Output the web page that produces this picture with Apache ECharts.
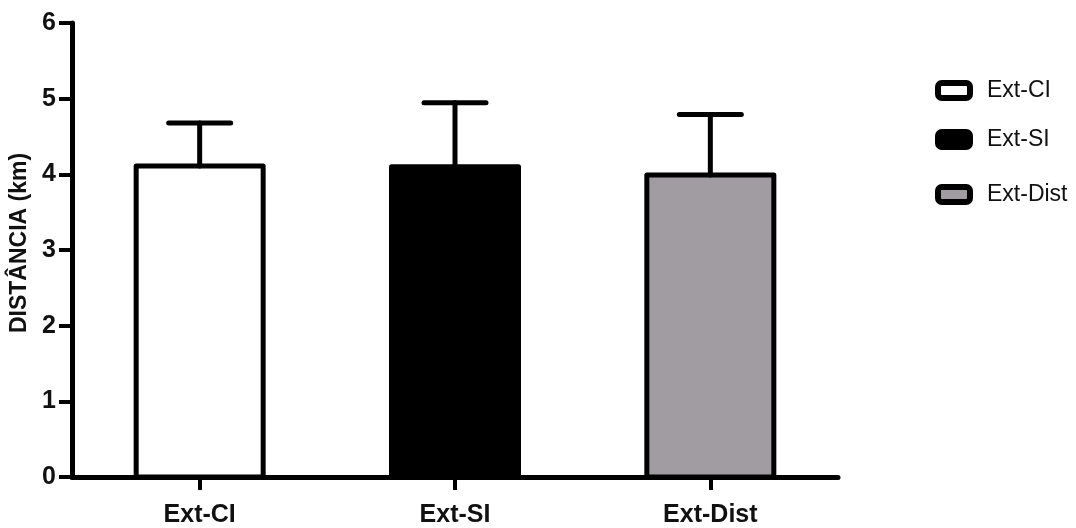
<!DOCTYPE html>
<html>
<head>
<meta charset="utf-8">
<script src="https://cdn.jsdelivr.net/npm/echarts@6/dist/echarts.min.js"></script>
<style>html,body{margin:0;padding:0;background:#fff}#c{width:1076px;height:528px}</style>
</head>
<body>
<div id="c"></div>
<script>
var categories = ['Ext-CI', 'Ext-SI', 'Ext-Dist'];
var seriesNames = ['Ext-CI', 'Ext-SI', 'Ext-Dist'];
var means = [4.11, 4.10, 3.99];
var upperErr = [4.68, 4.945, 4.79];
var fills = ['#ffffff', '#000000', '#a19ca2'];
var yTicks = [0, 1, 2, 3, 4, 5, 6];

var chart = echarts.init(document.getElementById('c'));
var font = '"Liberation Sans", Arial, sans-serif';
var BAR_W = 127;

var series = seriesNames.map(function (name, i) {
  var data = categories.map(function (c, j) { return j === i ? means[i] : '-'; });
  return {
    name: name, type: 'bar', data: data, barWidth: BAR_W, barGap: '-100%',
    itemStyle: { color: fills[i], borderWidth: 0 },
    z: 2
  };
});
// bar outlines (stroke centred on the bar edge)
series.push({
  type: 'custom', name: 'outline', z: 3, silent: true,
  data: categories.map(function (c, j) { return [j, means[j]]; }),
  renderItem: function (params, api) {
    var p0 = api.coord([api.value(0), 0]);
    var p1 = api.coord([api.value(0), api.value(1)]);
    return {
      type: 'rect',
      shape: { x: p0[0] - BAR_W / 2, y: p1[1], width: BAR_W, height: p0[1] - p1[1] },
      style: { fill: 'none', stroke: '#000', lineWidth: 5, lineJoin: 'round' }
    };
  }
});
series.push({
  type: 'custom', name: 'err', z: 4, silent: true,
  data: categories.map(function (c, j) { return [j, means[j], upperErr[j]]; }),
  renderItem: function (params, api) {
    var base = api.coord([api.value(0), api.value(1)]);
    var top = api.coord([api.value(0), api.value(2)]);
    var hw = 31;
    var st = { stroke: '#000', lineWidth: 5, lineCap: 'round' };
    return { type: 'group', children: [
      { type: 'line', shape: { x1: base[0], y1: base[1], x2: top[0], y2: top[1] }, style: st },
      { type: 'line', shape: { x1: top[0] - hw, y1: top[1], x2: top[0] + hw, y2: top[1] }, style: st }
    ]};
  }
});

function legendAt(i, topPx) {
  return {
    data: [seriesNames[i]], orient: 'vertical', left: 935, top: topPx, padding: 0,
    icon: 'roundRect', itemWidth: 32, itemHeight: 15,
    itemStyle: { borderWidth: 6, borderColor: '#000' },
    textStyle: { fontFamily: font, fontSize: 23, color: '#111', padding: [0, 0, 0, 12] },
    selectedMode: false
  };
}

chart.setOption({
  animation: false,
  backgroundColor: '#fff',
  grid: { left: 70.5, right: 238, top: 23, bottom: 49 },
  legend: [legendAt(0, 79), legendAt(1, 128), legendAt(2, 183)],
  xAxis: {
    type: 'category', data: categories,
    axisLine: { lineStyle: { color: '#000', width: 5 } },
    axisTick: { show: true, alignWithLabel: true, length: 13, lineStyle: { color: '#000', width: 4 } },
    axisLabel: { fontFamily: font, fontWeight: 'bold', fontSize: 25, color: '#111', margin: 26 }
  },
  yAxis: {
    type: 'value', min: 0, max: 6, interval: 1,
    name: 'DISTÂNCIA (km)', nameLocation: 'middle', nameGap: 41,
    nameTextStyle: { fontFamily: font, fontWeight: 'bold', fontSize: 23, color: '#111', padding: [0, 0, 0, 14] },
    axisLine: { show: true, lineStyle: { color: '#000', width: 5 } },
    axisTick: { show: true, length: 13, lineStyle: { color: '#000', width: 4 } },
    axisLabel: { fontFamily: font, fontWeight: 'bold', fontSize: 25, color: '#111', margin: 16,
      formatter: function (v) { return yTicks.indexOf(v) >= 0 ? String(v) : ''; } },
    splitLine: { show: false }
  },
  series: series
});
</script>
</body>
</html>
